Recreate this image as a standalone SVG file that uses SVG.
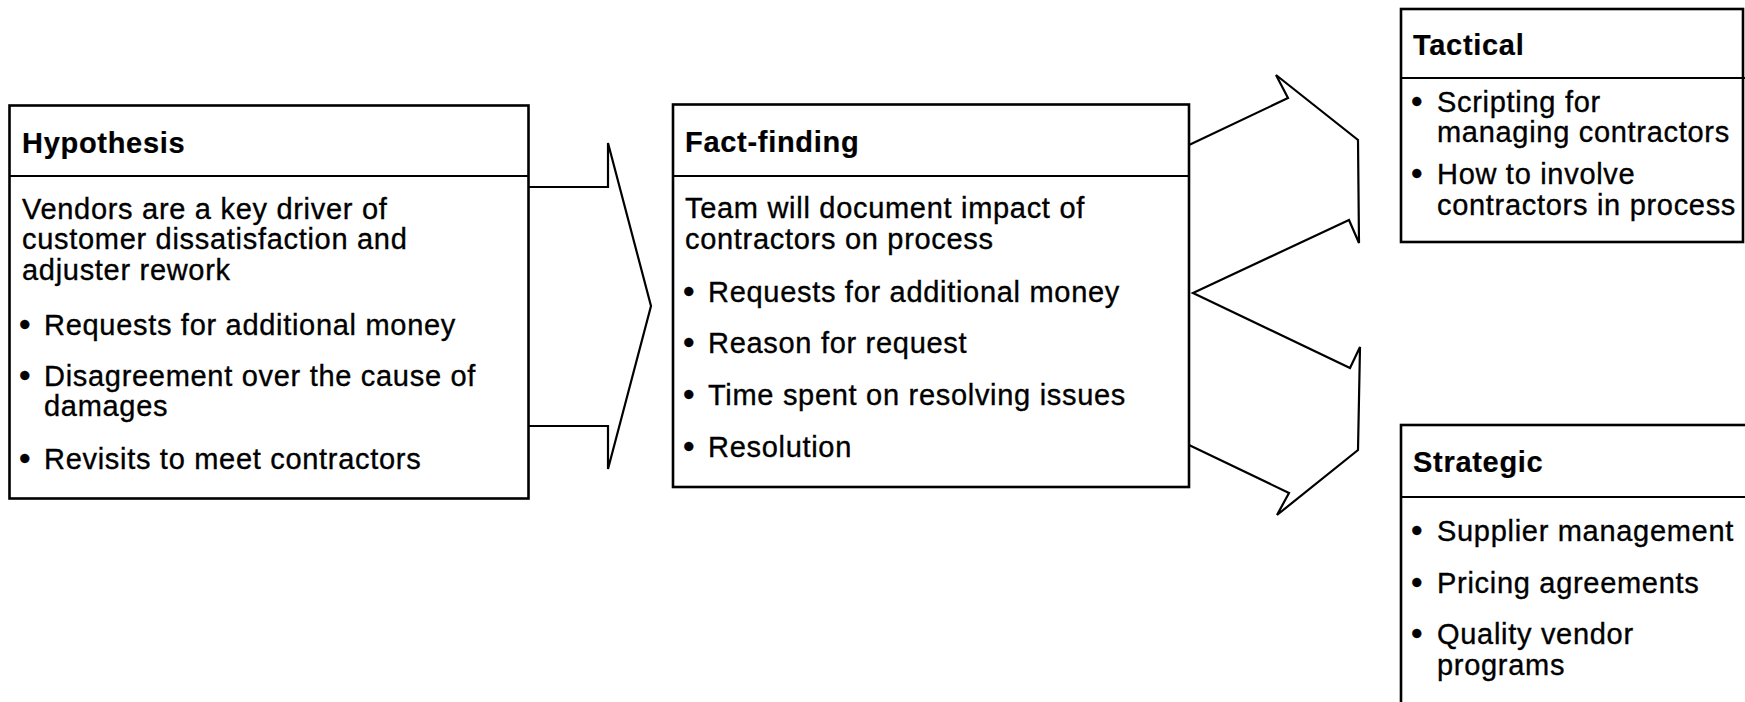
<svg xmlns="http://www.w3.org/2000/svg" width="1745" height="702" viewBox="0 0 1745 702">
  <style>
    .box { fill: #ffffff; stroke: #000000; stroke-width: 2.6; }
    .rule { stroke: #000000; stroke-width: 2; fill: none; }
    .conn { fill: none; stroke: #000000; stroke-width: 2.2; stroke-linejoin: miter; }
    text { font-family: "Liberation Sans", Arial, Helvetica, sans-serif; font-size: 29px; letter-spacing: 0.7px; fill: #000000; stroke: #000000; stroke-width: 0.35px; }
    .head { font-weight: bold; stroke-width: 0.2px; }
    .dot { font-size: 33px; }
  </style>
  <rect x="0" y="0" width="1745" height="702" fill="#ffffff"/>

  <!-- block arrows between stages -->
  <g id="connectors">
    <polyline class="conn" points="528,187 608,187 608,143 651,306 608,469 608,426 528,426"/>
    <polyline class="conn" points="1189,145 1288,98 1276,75 1358,140 1359,243 1349,220 1193,293 1350,368 1360,347 1358,450 1277,515 1289,493 1189,445"/>
  </g>

  <g id="hypothesis">
    <rect class="box" x="9.5" y="105.5" width="519" height="393"/>
    <line class="rule" x1="9.5" y1="176" x2="528.5" y2="176"/>
    <text class="head" x="22" y="153">Hypothesis</text>
    <text x="22" y="219">Vendors are a key driver of</text>
    <text x="22" y="249">customer dissatisfaction and</text>
    <text x="22" y="280">adjuster rework</text>
    <text class="dot" x="19" y="336">•</text><text x="44" y="335">Requests for additional money</text>
    <text class="dot" x="19" y="387">•</text><text x="44" y="386">Disagreement over the cause of</text>
    <text x="44" y="416">damages</text>
    <text class="dot" x="19" y="470">•</text><text x="44" y="469">Revisits to meet contractors</text>
  </g>

  <g id="fact-finding">
    <rect class="box" x="673" y="104.5" width="516" height="382.5"/>
    <line class="rule" x1="673" y1="176" x2="1189" y2="176"/>
    <text class="head" x="685" y="152">Fact-finding</text>
    <text x="685" y="218">Team will document impact of</text>
    <text x="685" y="249">contractors on process</text>
    <text class="dot" x="683" y="303">•</text><text x="708" y="302">Requests for additional money</text>
    <text class="dot" x="683" y="354">•</text><text x="708" y="353">Reason for request</text>
    <text class="dot" x="683" y="406">•</text><text x="708" y="405">Time spent on resolving issues</text>
    <text class="dot" x="683" y="458">•</text><text x="708" y="457">Resolution</text>
  </g>

  <g id="tactical">
    <rect class="box" x="1401" y="9" width="342" height="233"/>
    <line class="rule" x1="1401" y1="78" x2="1745" y2="78"/>
    <text class="head" x="1413" y="55">Tactical</text>
    <text class="dot" x="1411" y="113">•</text><text x="1437" y="112">Scripting for</text>
    <text x="1437" y="142">managing contractors</text>
    <text class="dot" x="1411" y="185">•</text><text x="1437" y="184">How to involve</text>
    <text x="1437" y="215">contractors in process</text>
  </g>

  <g id="strategic">
    <rect class="box" x="1401" y="425" width="360" height="300"/>
    <line class="rule" x1="1401" y1="497" x2="1745" y2="497"/>
    <text class="head" x="1413" y="472">Strategic</text>
    <text class="dot" x="1411" y="542">•</text><text x="1437" y="541">Supplier management</text>
    <text class="dot" x="1411" y="594">•</text><text x="1437" y="593">Pricing agreements</text>
    <text class="dot" x="1411" y="645">•</text><text x="1437" y="644">Quality vendor</text>
    <text x="1437" y="675">programs</text>
  </g>
</svg>
